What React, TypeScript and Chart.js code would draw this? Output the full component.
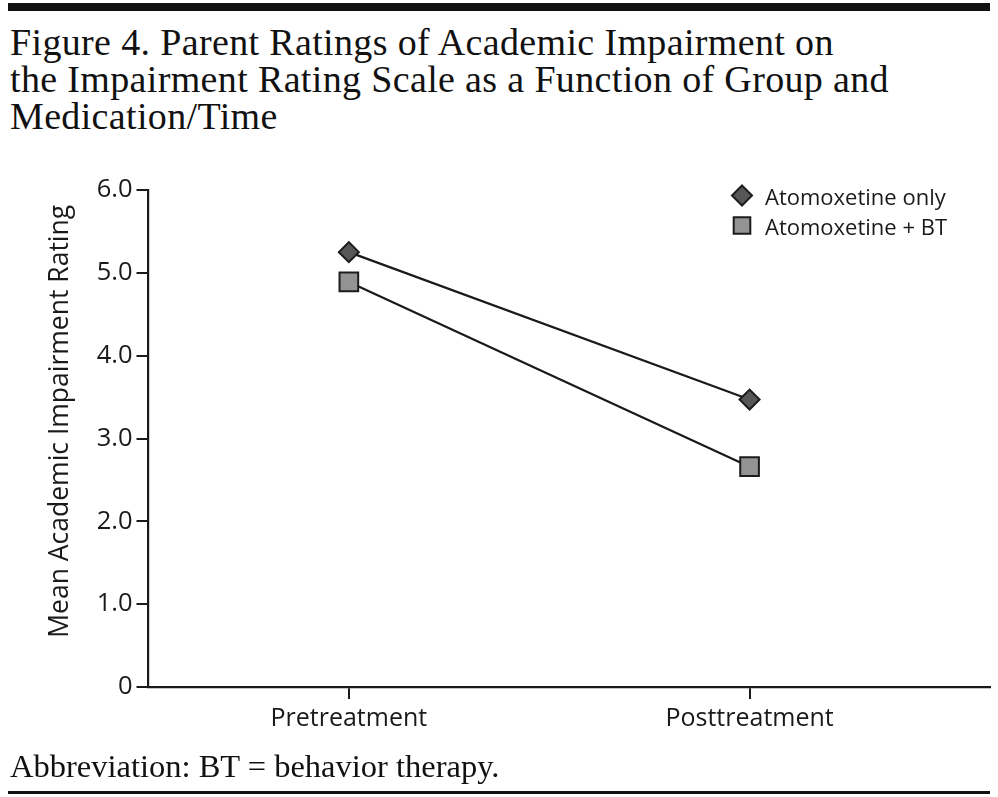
import React, { useEffect, useRef } from "react";
import { Chart, registerables } from "chart.js";

Chart.register(...registerables);

const titleLines = [
  "Figure 4. Parent Ratings of Academic Impairment on",
  "the Impairment Rating Scale as a Function of Group and",
  "Medication/Time",
];
const footnote = "Abbreviation: BT = behavior therapy.";
const categories = ["Pretreatment", "Posttreatment"];
const seriesLabels = ["Atomoxetine only", "Atomoxetine + BT"];
const atomoxetineOnly = [5.25, 3.47];
const atomoxetineBT = [4.89, 2.66];
const yTicks = [0, 1, 2, 3, 4, 5, 6];
const yTickLabels = ["0", "1.0", "2.0", "3.0", "4.0", "5.0", "6.0"];
const yAxisTitle = "Mean Academic Impairment Rating";

const INK = "#1a1a1a";
const SANS = '"Open Sans", "DejaVu Sans", sans-serif';

const insideLegend = {
  id: "insideLegend",
  afterDatasetsDraw(chart: any) {
    const { ctx, chartArea } = chart;
    chart.data.datasets.forEach((ds: any, i: number) => {
      const cx = chartArea.right - 248;
      const cy = chartArea.top + 5.5 + i * 30;
      ctx.save();
      ctx.fillStyle = ds.pointBackgroundColor;
      ctx.strokeStyle = ds.pointBorderColor;
      ctx.lineWidth = ds.pointBorderWidth;
      ctx.beginPath();
      if (ds.pointStyle === "rectRot") {
        const r = 10;
        ctx.moveTo(cx, cy - r);
        ctx.lineTo(cx + r, cy);
        ctx.lineTo(cx, cy + r);
        ctx.lineTo(cx - r, cy);
        ctx.closePath();
      } else {
        const h = 8.3;
        ctx.rect(cx - h, cy - h, 2 * h, 2 * h);
      }
      ctx.fill();
      ctx.stroke();
      ctx.fillStyle = INK;
      ctx.font = `22px ${SANS}`;
      ctx.textAlign = "left";
      ctx.textBaseline = "alphabetic";
      ctx.fillText(ds.label, cx + 23, cy + 9);
      ctx.restore();
    });
  },
};

export default function App() {
  const canvasRef = useRef<HTMLCanvasElement | null>(null);

  useEffect(() => {
    if (!canvasRef.current) return;
    const chart = new Chart(canvasRef.current, {
      type: "line",
      data: {
        datasets: [
          {
            label: seriesLabels[0],
            data: atomoxetineOnly.map((v, i) => ({ x: i + 1, y: v })),
            borderColor: INK,
            borderWidth: 2.2,
            pointStyle: "rectRot",
            pointRadius: 10,
            pointHoverRadius: 10,
            pointBackgroundColor: "#575757",
            pointBorderColor: "#1c1c1c",
            pointBorderWidth: 2,
          },
          {
            label: seriesLabels[1],
            data: atomoxetineBT.map((v, i) => ({ x: i + 1, y: v })),
            borderColor: INK,
            borderWidth: 2.2,
            pointStyle: "rect",
            pointRadius: 13.2,
            pointHoverRadius: 13.2,
            pointBackgroundColor: "#939393",
            pointBorderColor: "#1c1c1c",
            pointBorderWidth: 2,
          },
        ],
      },
      options: {
        animation: false,
        responsive: false,
        layout: { autoPadding: false, padding: { top: 30, right: 8, left: 45, bottom: 0 } },
        plugins: {
          legend: { display: false },
          tooltip: { enabled: false },
        },
        scales: {
          x: {
            type: "linear",
            min: 0.5,
            max: 2.6,
            afterBuildTicks: (scale: any) => {
              scale.ticks = categories.map((_, i) => ({ value: i + 1 }));
            },
            afterFit: (scale: any) => {
              scale.height = 63;
            },
            ticks: {
              callback: (v: any) => categories[Number(v) - 1] ?? "",
              font: { family: SANS, size: 25 },
              color: INK,
              padding: 5,
              maxRotation: 0,
              autoSkip: false,
            },
            grid: {
              drawOnChartArea: false,
              drawTicks: true,
              tickLength: 12,
              color: INK,
              lineWidth: 2,
            },
            border: { display: true, color: INK, width: 2.2 },
          },
          y: {
            min: 0,
            max: 6,
            afterBuildTicks: (scale: any) => {
              scale.ticks = yTicks.map((v) => ({ value: v }));
            },
            afterFit: (scale: any) => {
              scale.width = 103.5;
            },
            ticks: {
              callback: (v: any) => yTickLabels[yTicks.indexOf(Number(v))] ?? "",
              font: { family: SANS, size: 25.5 },
              color: INK,
              padding: 4,
            },
            grid: {
              drawOnChartArea: false,
              drawTicks: true,
              tickLength: 12,
              color: INK,
              lineWidth: 2,
            },
            border: { display: true, color: INK, width: 2.2 },
            title: {
              display: true,
              text: "\u00a0\u00a0\u00a0\u00a0\u00a0" + yAxisTitle,
              font: { family: SANS, size: 26.5 },
              color: INK,
              padding: { top: 0, bottom: 0 },
            },
          },
        },
      },
      plugins: [insideLegend],
    });
    return () => chart.destroy();
  }, []);

  return (
    <div
      style={{
        position: "absolute",
        left: 0,
        top: 0,
        width: 998,
        height: 797,
        background: "#fff",
        overflow: "hidden",
      }}
    >
      <div style={{ position: "absolute", left: 8, top: 3, width: 982, height: 8, background: "#111" }} />
      <div
        style={{
          position: "absolute",
          left: 10,
          top: 24,
          fontFamily: '"Liberation Serif", serif',
          fontSize: 38,
          lineHeight: "37px",
          letterSpacing: 0.35,
          color: "#111",
          whiteSpace: "nowrap",
        }}
      >
        {titleLines.map((l, i) => (
          <div key={i}>{l}</div>
        ))}
      </div>
      <div style={{ position: "absolute", left: 0, top: 160, width: 998, height: 590 }}>
        <canvas ref={canvasRef} width={998} height={590} />
      </div>
      <div
        style={{
          position: "absolute",
          left: 10,
          top: 750,
          fontFamily: '"Liberation Serif", serif',
          fontSize: 32.5,
          lineHeight: "32px",
          color: "#111",
          whiteSpace: "nowrap",
        }}
      >
        {footnote}
      </div>
      <div style={{ position: "absolute", left: 8, top: 791, width: 982, height: 3, background: "#111" }} />
    </div>
  );
}
